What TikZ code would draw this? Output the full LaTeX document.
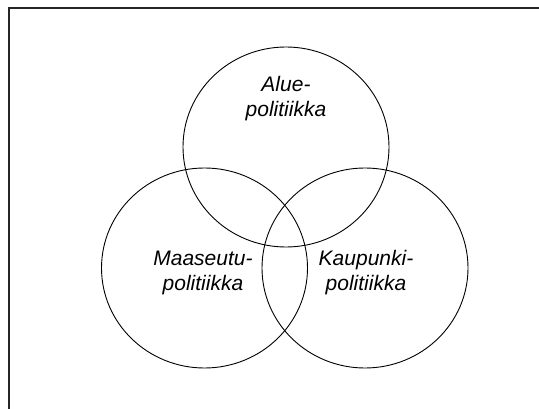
\documentclass[tikz,border=0pt]{standalone}
\usepackage{fontspec}
\setmainfont{Liberation Sans}
\usetikzlibrary{shapes.geometric}
\begin{document}
\begin{tikzpicture}[x=1pt,y=-1pt]

    % Styles
    \tikzset{
        ympyra/.style={draw, ellipse, minimum width=206pt, minimum height=200pt, inner sep=0pt, line width=0.9pt},
        teksti/.style={align=center, inner sep=0pt, font=\fontsize{21}{25}\selectfont\itshape}
    }

    % Page size
    \useasboundingbox (0,0) rectangle (539,409);

    % Frame, only top and left edges visible
    \draw[line width=2pt, black!85] (8.5,409) -- (8.5,8.5) -- (539,8.5);

    % Draw the three circles
    \node[ympyra] (alue) at (286,147) {};
    \node[ympyra] (maaseutu) at (204.5,268) {};
    \node[ympyra] (kaupunki) at (365,268) {};

    % Labels inside the circles
    \node[teksti] (aluet) at (286,99) {Alue-\\politiikka};
    \node[teksti] (maaseutut) at (203,273) {Maaseutu-\\politiikka};
    \node[teksti] (kaupunkit) at (366,273) {Kaupunki-\\politiikka};

\end{tikzpicture}
\end{document}
